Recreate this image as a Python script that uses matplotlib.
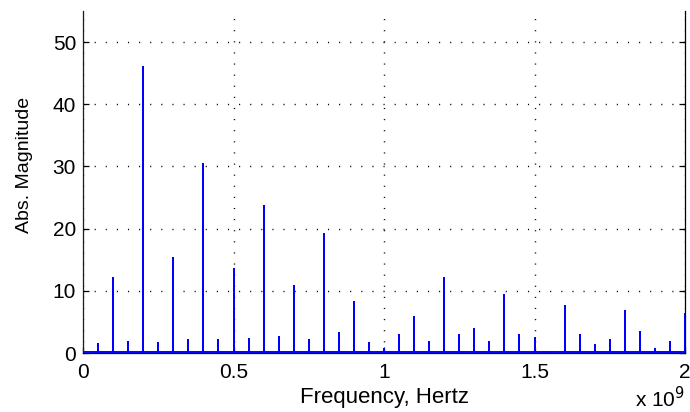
import numpy as np
import matplotlib
matplotlib.use("Agg")
import matplotlib.pyplot as plt

# Spectral line frequencies (GHz) and magnitudes
freqs_ghz = [0.00, 0.05, 0.10, 0.15, 0.20, 0.25, 0.30, 0.35, 0.40, 0.45,
             0.50, 0.55, 0.60, 0.65, 0.70, 0.75, 0.80, 0.85, 0.90, 0.95,
             1.00, 1.05, 1.10, 1.15, 1.20, 1.25, 1.30, 1.35, 1.40, 1.45,
             1.50, 1.55, 1.60, 1.65, 1.70, 1.75, 1.80, 1.85, 1.90, 1.95, 2.00]
magnitudes = [60.0, 1.6, 12.3, 1.9, 46.2, 1.7, 15.4, 2.2, 30.6, 2.2,
              13.7, 2.4, 23.8, 2.8, 10.9, 2.2, 19.3, 3.3, 8.4, 1.8,
              0.8, 3.1, 6.0, 2.0, 12.2, 3.1, 4.0, 2.0, 9.5, 3.1,
              2.5, 0.0, 7.8, 3.1, 1.4, 2.3, 6.9, 3.6, 0.8, 1.9, 6.5]
noise_floor = 0.15

xticks = [0, 0.5e9, 1.0e9, 1.5e9, 2.0e9]
xtick_labels = ["0", "0.5", "1", "1.5", "2"]
yticks = [0, 10, 20, 30, 40, 50]

plt.rcParams['font.family'] = ['Liberation Sans', 'DejaVu Sans']
plt.rcParams['lines.scale_dashes'] = False

fig = plt.figure(figsize=(6.9, 4.12), dpi=100)
ax = fig.add_axes([0.1203, 0.1432, 0.8725, 0.830])

# build spike polyline from the data
xs, ys = [], []
for f, m in zip(freqs_ghz, magnitudes):
    xs += [f * 1e9, f * 1e9, f * 1e9]
    ys += [noise_floor, m, noise_floor]
ax.plot(xs, ys, color=(0, 0, 1), lw=1.4, solid_joinstyle='miter', zorder=3)

ax.set_xlim(0, 2e9)
ax.set_ylim(0, 55)
ax.set_xticks(xticks)
ax.set_xticklabels(xtick_labels)
ax.set_yticks(yticks)

ax.grid(True, color='black', linestyle=(0, (0.8, 7.2)), linewidth=1.0)
ax.set_axisbelow(True)

for s in ['left', 'right', 'bottom']:
    ax.spines[s].set_color('black')
    ax.spines[s].set_linewidth(0.9)
ax.spines['top'].set_visible(False)

ax.tick_params(axis='both', direction='in', length=4, width=0.9,
               labelsize=15, right=True, top=False)
ax.tick_params(axis='y', pad=5)
ax.tick_params(axis='x', pad=7)

ax.set_xlabel("Frequency, Hertz", fontsize=16, labelpad=4)
ax.set_ylabel("Abs. Magnitude", fontsize=14, labelpad=12)
ax.yaxis.set_label_coords(-0.083, 0.55)

fig.text(0.9928, 0.001, r"x 10$^{9}$", ha='right', va='bottom', fontsize=15)

fig.savefig("out.png", dpi=100)
